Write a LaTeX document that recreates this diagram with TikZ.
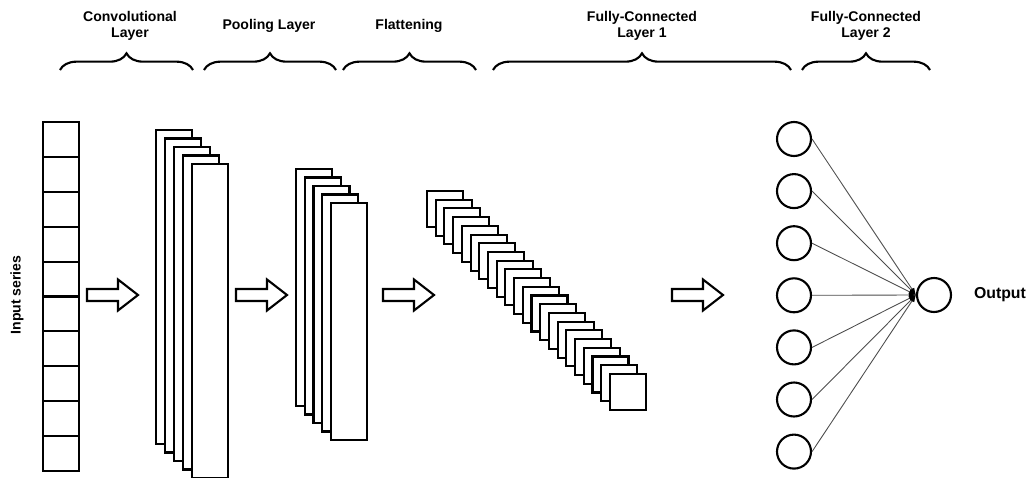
\documentclass[tikz,border=0pt]{standalone}
\usepackage{fontspec}
\setmainfont{Liberation Sans}
\usetikzlibrary{decorations.pathreplacing,arrows.meta}

\tikzset{
    layer/.style={line width=1.2pt, fill=white},
    blockarrow/.style={line width=1.2pt, fill=white, line join=miter},
    neuron/.style={circle, draw, line width=1.2pt, fill=white, minimum size=0.68cm, inner sep=0pt},
    weight/.style={line width=0.5pt, black!70, -{Latex[length=4pt,width=3pt,black]}},
    lbl/.style={font=\fontsize{8}{9.2}\selectfont\bfseries, align=center},
    layerbrace/.style={line width=1.2pt, decorate, decoration={brace, amplitude=9.5pt}}
}

\begin{document}
\begin{tikzpicture}[x=0.02cm, y=-0.02cm]
    % Define the frame of the picture
    \clip (0,0) rectangle (1028,477);

    % Labels of the layers
    \node[lbl] (convlbl) at (130,26) {Convolutional\\Layer};
    \node[lbl] (poollbl) at (269,26) {Pooling Layer};
    \node[lbl] (flatlbl) at (409,26) {Flattening};
    \node[lbl] (fconelbl) at (642,26) {Fully-Connected\\Layer 1};
    \node[lbl] (fctwolbl) at (866,26) {Fully-Connected\\Layer 2};

    % Braces under the labels
    \draw[layerbrace] (60,70) -- (193,70);
    \draw[layerbrace] (204,70) -- (336,70);
    \draw[layerbrace] (343,70) -- (476,70);
    \draw[layerbrace] (493,70) -- (791,70);
    \draw[layerbrace] (802,70) -- (930,70);

    % Input series
    \foreach \i in {0,...,9}
        \draw[layer] (43,{122+34.9*\i}) rectangle (79,{122+34.9*(\i+1)});
    \node[lbl, rotate=90] (inlbl) at (17,295) {Input series};

    % Convolutional layer
    \foreach \i in {0,...,4}
        \draw[layer] ({156+9*\i},{130+8.5*\i}) rectangle ++(36,314);

    % Pooling layer
    \foreach \i in {0,...,4}
        \draw[layer] ({296+8.75*\i},{169+8.5*\i}) rectangle ++(36,237);

    % Flattening
    \foreach \i in {0,...,21}
        \draw[layer] ({427+8.71*\i},{191+8.71*\i}) rectangle ++(36,36);

    % Arrows between the layers
    \foreach \x in {87,236,383,672}
        \draw[blockarrow] (\x,289) -- ++(31,0) -- ++(0,-9.5) -- ++(20,15.5)
            -- ++(-20,15.5) -- ++(0,-9.5) -- ++(-31,0) -- cycle;

    % Fully-connected layers
    \node[neuron] (out) at (934,295) {};
    \foreach \i in {1,...,7} {
        \node[neuron] (n\i) at (794,{139+52.1*(\i-1)}) {};
        \draw[weight] (n\i.east) -- (out.west);
    }
    \node[lbl, font=\fontsize{9}{10}\selectfont\bfseries] (outlbl) at (1000,295) {Output};

\end{tikzpicture}
\end{document}
